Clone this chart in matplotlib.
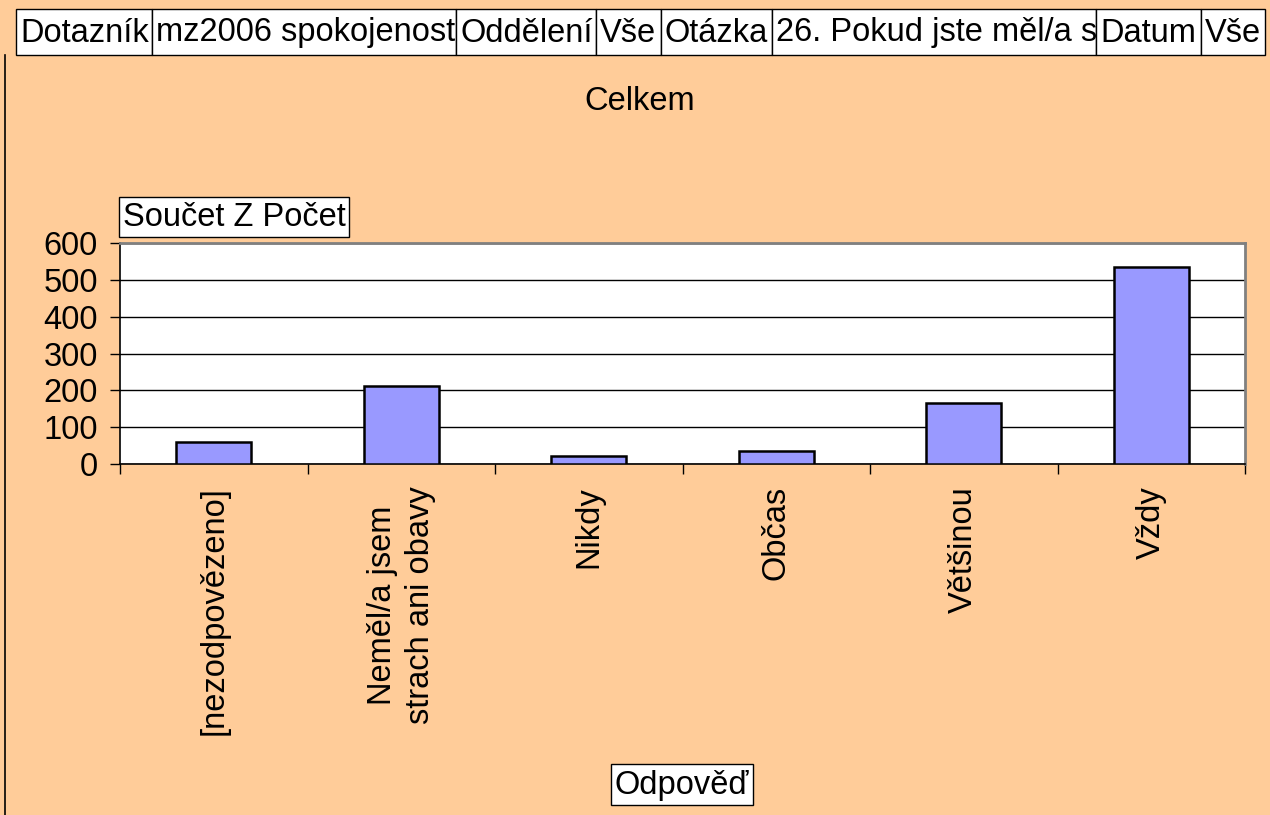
import matplotlib
matplotlib.use("Agg")
import matplotlib.pyplot as plt
from matplotlib.patches import Rectangle
from matplotlib.lines import Line2D

# data
categories = ["[nezodpovězeno]", "Neměl/a jsem\nstrach ani obavy", "Nikdy", "Občas", "Většinou", "Vždy"]
counts = [61, 211, 22, 35, 165, 534]
y_ticks = [0, 100, 200, 300, 400, 500, 600]

header_labels = ["Dotazník", "mz2006 spokojenost", "Oddělení", "Vše", "Otázka",
                 "26. Pokud jste měl/a s", "Datum", "Vše"]
header_edges = [16, 152, 456, 596, 661, 772, 1096, 1201, 1265]

W, H = 1270, 815
BG = "#FFCC99"
BAR = "#9999FF"
FS = 23.5

plt.rcParams["font.family"] = ["Liberation Sans", "DejaVu Sans"]

fig = plt.figure(figsize=(W / 100, H / 100), dpi=100, facecolor=BG)


def fx(px):
    return px / W


def fy(py):
    return 1 - py / H


def box(x0, y0, x1, y1, text, pad=4, ha="left"):
    rect = Rectangle((fx(x0), fy(y1)), fx(x1 - x0), fy(y0) - fy(y1),
                     transform=fig.transFigure, facecolor="white",
                     edgecolor="black", lw=1.0)
    fig.patches.append(rect)
    tx = x0 + pad if ha == "left" else (x0 + x1) / 2
    t = fig.text(fx(tx), fy((y0 + y1) / 2 + 1), text, ha=ha, va="center", fontsize=FS)
    t.set_clip_path(rect)


# left border of the sheet
fig.add_artist(Line2D([fx(5), fx(5)], [0, fy(55)], transform=fig.transFigure,
                      color="black", lw=1.2))

# header row
for i, lab in enumerate(header_labels):
    box(header_edges[i], 9, header_edges[i + 1], 55, lab)

fig.text(fx(640), fy(101), "Celkem", ha="center", va="center", fontsize=FS)

# axes
ax = fig.add_axes([fx(120), fy(464), fx(1245 - 120), fy(243) - fy(464)])
ax.set_facecolor("white")
x = range(len(categories))
ax.bar(x, counts, width=0.4, color=BAR, edgecolor="black", linewidth=1.8, zorder=3)

ax.set_xlim(-0.5, len(categories) - 0.5)
ax.set_ylim(0, 600)
ax.set_yticks(y_ticks)
ax.set_yticklabels([str(v) for v in y_ticks], fontsize=FS)
ax.yaxis.grid(True, color="black", lw=1.0, zorder=1)
ax.set_axisbelow(True)

ax.set_xticks(list(x))
ax.set_xticklabels(categories, rotation=90, fontsize=FS, ha="center", va="top",
                   multialignment="center", linespacing=1.3)
ax.set_xticks([i + 0.5 for i in range(-1, len(categories))], minor=True)
ax.tick_params(axis="x", which="major", length=0, pad=16)
ax.tick_params(axis="x", which="minor", length=7, width=1, direction="out")
ax.tick_params(axis="y", length=7, width=1, direction="out", pad=9)

for side in ("left", "bottom"):
    ax.spines[side].set_color("black")
    ax.spines[side].set_linewidth(1.2)
for side in ("top", "right"):
    ax.spines[side].set_color("#808080")
    ax.spines[side].set_linewidth(2.0)

# axis title boxes
box(119, 197, 349, 237, "Součet Z Počet")
box(611, 764, 753, 805, "Odpověď", ha="center")

fig.savefig("out.png", dpi=100, facecolor=BG)
